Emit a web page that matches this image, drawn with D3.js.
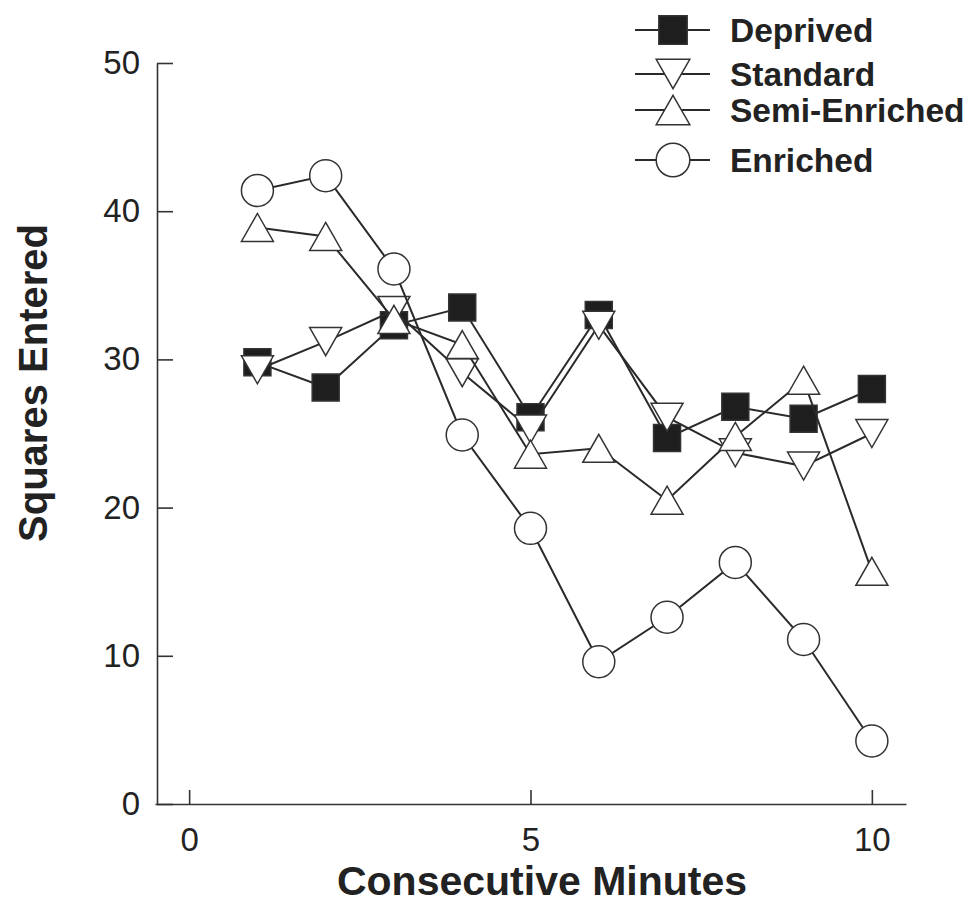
<!DOCTYPE html>
<html>
<head>
<meta charset="utf-8">
<script src="https://cdn.jsdelivr.net/npm/d3@7"></script>
<style>
  html, body { margin: 0; padding: 0; background: #fff; }
  svg { display: block; }
  text { font-family: "Liberation Sans", Arial, sans-serif; fill: #222; }
</style>
</head>
<body>
<svg id="chart" width="967" height="907"></svg>
<script>
const minutes = [1, 2, 3, 4, 5, 6, 7, 8, 9, 10];
const deprived = [29.8, 28.1, 32.3, 33.5, 26.1, 33.0, 24.7, 26.8, 26.0, 28.0];
const standard = [29.3, 31.2, 33.3, 29.1, 25.3, 32.3, 26.1, 23.7, 22.8, 25.0];
const semiEnriched = [38.9, 38.3, 32.7, 31.0, 23.6, 24.0, 20.5, 24.8, 28.6, 15.7];
const enriched = [41.4, 42.4, 36.1, 24.9, 18.6, 9.6, 12.6, 16.3, 11.1, 4.25];
const seriesNames = ["Deprived", "Standard", "Semi-Enriched", "Enriched"];
const xTicks = [0, 5, 10];
const yTicks = [0, 10, 20, 30, 40, 50];

const series = [
  { name: seriesNames[0], values: deprived, shape: "square" },
  { name: seriesNames[1], values: standard, shape: "down" },
  { name: seriesNames[2], values: semiEnriched, shape: "up" },
  { name: seriesNames[3], values: enriched, shape: "circle" }
];

const svg = d3.select("#chart");
const x = d3.scaleLinear().domain([-0.5, 10.5]).range([155, 906]);
const y = d3.scaleLinear().domain([0, 50]).range([804, 63]);
const axisX0 = 157;

const strokeCol = "#2a2a2a";

function markerPath(shape, s) {
  if (shape === "square") { const h = 13.5 * s; return `M${-h},${-h}H${h}V${h}H${-h}Z`; }
  if (shape === "down") { const w = 16 * s, h = 14 * s; return `M${-w},${-h}L${w},${-h}L0,${h}Z`; }
  if (shape === "up") { const w = 16 * s, h = 14 * s; return `M0,${-h}L${w},${h}L${-w},${h}Z`; }
  const r = 16 * s;
  return `M${r},0A${r},${r} 0 1,1 ${-r},0A${r},${r} 0 1,1 ${r},0Z`;
}
function markerFill(shape) { return shape === "square" ? "#1e1e1e" : "#fff"; }

// Axes
const yAxis = d3.axisLeft(y).tickValues(yTicks).tickSizeInner(-16).tickSizeOuter(0).tickPadding(17);
const gy = svg.append("g").attr("transform", `translate(${axisX0},0)`).call(yAxis);
gy.selectAll("text").style("font-size", "33px").attr("fill", "#222");

const xAxis = d3.axisBottom(x).tickValues(xTicks).tickSizeInner(-14).tickSizeOuter(0).tickPadding(24);
const gx = svg.append("g").attr("transform", `translate(0,${y(0)})`).call(xAxis);
gx.selectAll("text").style("font-size", "33px").attr("fill", "#222");

[gx, gy].forEach(g => {
  g.select(".domain").attr("stroke", "#333").attr("stroke-width", 1.6);
  g.selectAll(".tick line").attr("stroke", "#333").attr("stroke-width", 1.6);
});

// Axis titles
svg.append("text")
  .attr("x", 542).attr("y", 895)
  .attr("text-anchor", "middle")
  .style("font-size", "41px").style("font-weight", "bold")
  .text("Consecutive Minutes");

svg.append("text")
  .attr("transform", "translate(47,383) rotate(-90)")
  .attr("text-anchor", "middle")
  .style("font-size", "40px").style("font-weight", "bold")
  .text("Squares Entered");

// Series
const line = d3.line().x((d, i) => x(minutes[i])).y(d => y(d));
series.forEach(s => {
  const g = svg.append("g");
  g.append("path")
    .attr("d", line(s.values))
    .attr("fill", "none")
    .attr("stroke", strokeCol)
    .attr("stroke-width", 2);
  g.selectAll("path.mk").data(s.values).enter().append("path")
    .attr("class", "mk")
    .attr("transform", (d, i) => `translate(${x(minutes[i])},${y(d)})`)
    .attr("d", markerPath(s.shape, 1))
    .attr("fill", markerFill(s.shape))
    .attr("stroke", "#333")
    .attr("stroke-width", 1.5);
});

// Legend
const legendY = [30, 74, 110, 160];
const leg = svg.append("g");
series.forEach((s, i) => {
  const ly = legendY[i];
  leg.append("line").attr("x1", 635).attr("x2", 710).attr("y1", ly).attr("y2", ly)
    .attr("stroke", strokeCol).attr("stroke-width", 2);
  leg.append("path").attr("transform", `translate(673,${ly})`)
    .attr("d", markerPath(s.shape, 1.05))
    .attr("fill", markerFill(s.shape)).attr("stroke", "#333").attr("stroke-width", 1.5);
  leg.append("text").attr("x", 730).attr("y", ly).attr("dy", "0.36em")
    .style("font-size", "33.5px").style("font-weight", "bold")
    .text(s.name);
});
</script>
</body>
</html>
